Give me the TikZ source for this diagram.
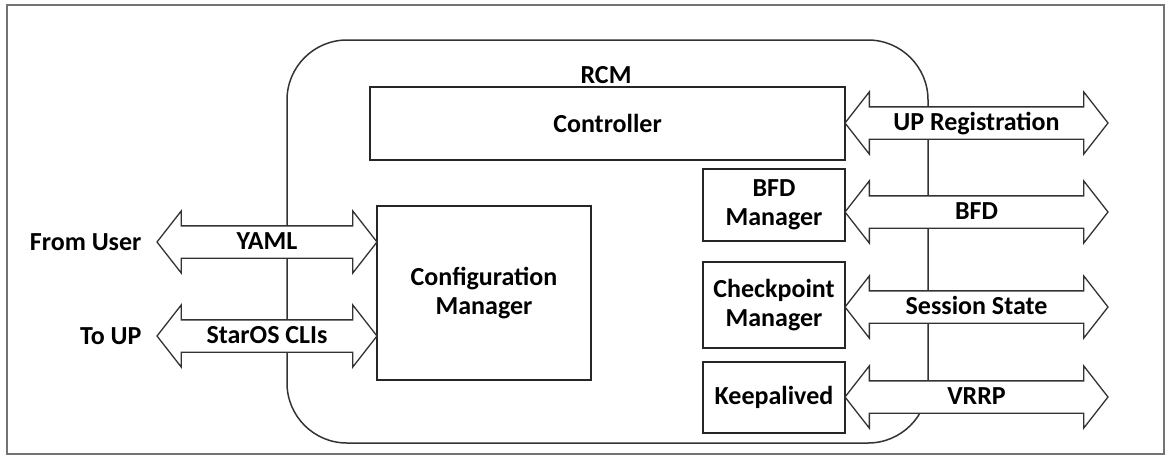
\documentclass[tikz,border=0pt]{standalone}
\usepackage{fontspec}
\setmainfont{Carlito}
\usetikzlibrary{shapes,positioning}

\begin{document}
\begin{tikzpicture}[x=1pt,y=-1pt,font=\fontsize{26}{29}\selectfont\bfseries]
\useasboundingbox (0,0) rectangle (1169,456);
\tikzstyle{box}=[draw=black!85, line width=1.6pt, fill=white, align=center,
                 inner sep=0pt, outer sep=0pt]
\tikzstyle{dbl}=[double arrow, draw=black!80, line width=1.3pt, fill=white,
                 double arrow head extend=15pt, double arrow tip angle=104,
                 inner xsep=0pt, inner ysep=0pt, text height=23pt,
                 text depth=8pt, outer sep=0pt]
% frame and RCM
\draw[black!55, line width=2.5pt] (7,5) rectangle (1164,454);
\node[draw=black!80, line width=1.5pt, rounded corners=60pt,
      minimum width=641pt, minimum height=403pt] (rcm) at (607.5,241.5) {};
\node (rcml) at (606,75) {RCM};
% boxes
\node[box, minimum width=475pt, minimum height=73pt] (ctrl) at (607.5,123.5) {Controller};
\node[box, minimum width=214pt, minimum height=174pt] (cfg) at (484,293) {Configuration\\Manager};
\node[box, minimum width=142pt, minimum height=72pt] (bfd) at (774,205) {BFD\\Manager};
\node[box, minimum width=142pt, minimum height=86pt] (chk) at (774,305) {Checkpoint\\Manager};
\node[box, minimum width=142pt, minimum height=71pt] (kpa) at (774,397.5) {Keepalived};
% interfaces
\foreach \n/\y/\t in {reg/123/UP Registration, bfdl/212/BFD,
                      sess/307/Session State, vrrp/397/VRRP}{
	\node[dbl, minimum height=263pt] (\n) at (976.5,\y) {\t};
	}
\node[dbl, minimum height=220pt] (yaml) at (267,242) {YAML};
\node[dbl, minimum height=220pt] (cli) at (267,336) {StarOS CLIs};
\node[anchor=east] (user) at (145,242) {From User};
\node[anchor=east] (up) at (145,336) {To UP};
\end{tikzpicture}
\end{document}
